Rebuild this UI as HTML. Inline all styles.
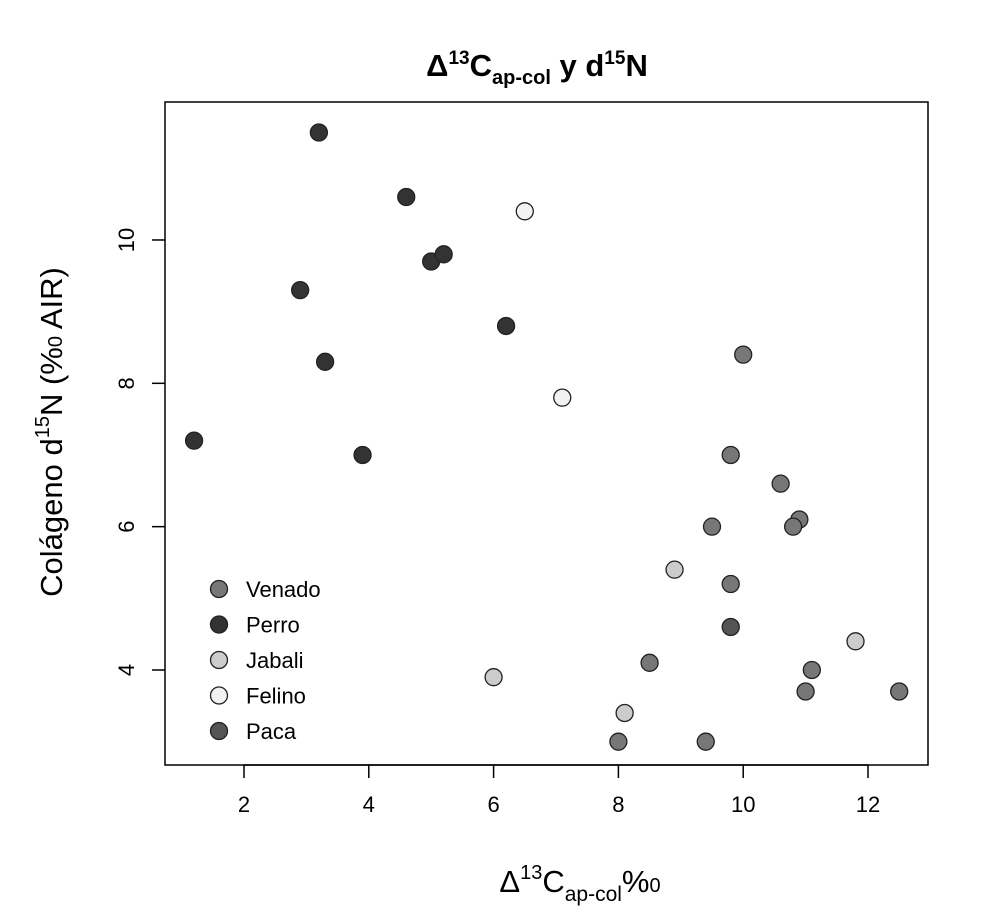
<!DOCTYPE html>
<html><head><meta charset="utf-8"><style>
body{margin:0;background:#fff;}
svg text{font-family:"Liberation Sans","DejaVu Sans",sans-serif;}
</style></head><body>
<svg width="1004" height="918" id="chart">
<text x="537" y="76" text-anchor="middle" font-size="31" font-weight="bold">Δ<tspan font-size="19" dy="-12">13</tspan><tspan dy="12">C</tspan><tspan font-size="20" dy="8">ap-col</tspan><tspan dy="-8"> y d</tspan><tspan font-size="19" dy="-12">15</tspan><tspan dy="12">N</tspan></text>
<rect x="165" y="102" width="763" height="663" fill="none" stroke="#000" stroke-width="1.5"/>
<g id="xaxis"></g>
<g id="yaxis"></g>
<text x="580" y="892" text-anchor="middle" font-size="31">Δ<tspan font-size="20" dy="-13">13</tspan><tspan dy="13">C</tspan><tspan font-size="21" dy="9">ap-col</tspan><tspan dy="-9">%</tspan><tspan font-size="20">0</tspan></text>
<text transform="translate(62,432) rotate(-90)" text-anchor="middle" font-size="31">Colágeno d<tspan font-size="20" dy="-13">15</tspan><tspan dy="13">N (%</tspan><tspan font-size="20">0</tspan> AIR)</text>
<g id="points"></g>
<g id="legend"></g>
</svg>
<script>
const xTicks=[2,4,6,8,10,12];
const yTicks=[4,6,8,10];
const seriesNames=["Venado","Perro","Jabali","Felino","Paca"];
const seriesColors=["#777","#333","#ccc","#f2f2f2","#555"];
const venadoX=[10,9.8,10.6,9.5,10.9,10.8,9.8,8.5,11.1,11,12.5,8,9.4];
const venadoY=[8.4,7,6.6,6,6.1,6,5.2,4.1,4,3.7,3.7,3,3];
const perroX=[3.2,4.6,5,5.2,2.9,6.2,3.3,1.2,3.9];
const perroY=[11.5,10.6,9.7,9.8,9.3,8.8,8.3,7.2,7];
const jabaliX=[8.9,11.8,6,8.1];
const jabaliY=[5.4,4.4,3.9,3.4];
const felinoX=[6.5,7.1];
const felinoY=[10.4,7.8];
const pacaX=[9.8];
const pacaY=[4.6];
const NS="http://www.w3.org/2000/svg";
function sx(v){return 244+(v-2)*62.4;}
function sy(v){return 670-(v-4)*71.67;}
function mk(t,a,p){const e=document.createElementNS(NS,t);for(const k in a)e.setAttribute(k,a[k]);p.appendChild(e);return e;}
const xa=document.getElementById('xaxis'),ya=document.getElementById('yaxis');
mk('line',{x1:sx(2),x2:sx(12),y1:765,y2:765,stroke:'#000','stroke-width':1.5},xa);
xTicks.forEach(t=>{
 const l=mk('line',{x1:sx(t),x2:sx(t),y1:765,y2:778,stroke:'#000','stroke-width':1.5},xa);
 
 
 const tx=mk('text',{x:sx(t),y:812,'text-anchor':'middle','font-size':22},xa);tx.textContent=t;
 
 
});
yTicks.forEach(t=>{
 const l=mk('line',{x1:152,x2:165,y1:sy(t),y2:sy(t),stroke:'#000','stroke-width':1.5},ya);
 
 
 const tx=mk('text',{transform:`translate(134,${sy(t)}) rotate(-90)`,'text-anchor':'middle','font-size':22},ya);tx.textContent=t;
 
 
});
const pg=document.getElementById('points');
const sets=[[venadoX,venadoY],[perroX,perroY],[jabaliX,jabaliY],[felinoX,felinoY],[pacaX,pacaY]];
sets.forEach((s,i)=>{s[0].forEach((x,j)=>{
 const c=mk('circle',{cx:sx(x),cy:sy(s[1][j]),r:8.5,fill:seriesColors[i],stroke:'#222','stroke-width':1.3},pg);
 
 
});});
const lg=document.getElementById('legend');
seriesNames.forEach((n,i)=>{
 const y=589+i*35.5;
 const c=mk('circle',{cx:219,cy:y,r:8.5,fill:seriesColors[i],stroke:'#222','stroke-width':1.3},lg);
 
 
 const t=mk('text',{x:246,y:y+8,'font-size':22},lg);t.textContent=n;
 
 
});
</script>
</body></html>
